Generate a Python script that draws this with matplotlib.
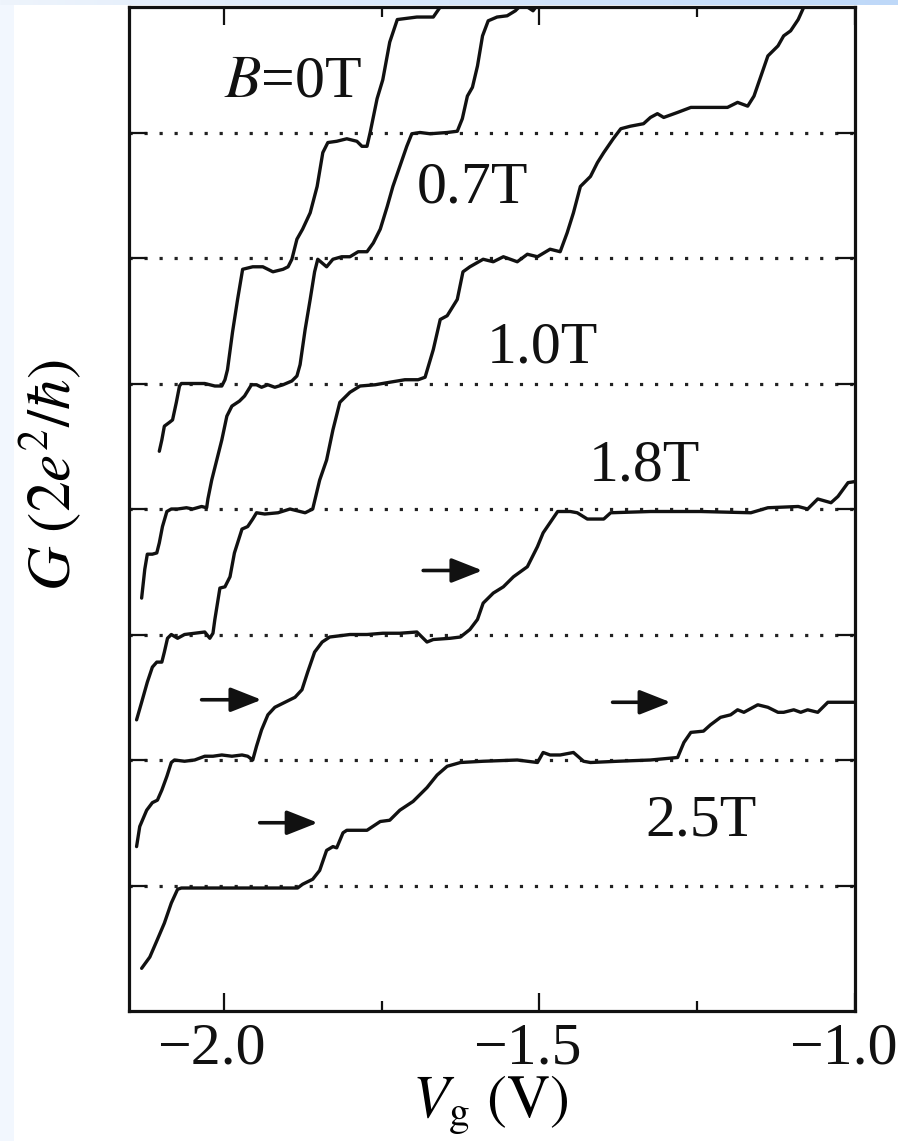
import numpy as np
import matplotlib
matplotlib.use("Agg")
import matplotlib.pyplot as plt
from matplotlib.patches import Rectangle
from matplotlib.transforms import ScaledTranslation

plt.rcParams['font.family'] = ['Liberation Serif', 'DejaVu Serif']
plt.rcParams['mathtext.fontset'] = 'stix'
plt.rcParams['axes.unicode_minus'] = True

# ---------------- data ----------------
field_labels = [r'$B$=0T', '0.7T', '1.0T', '1.8T', '2.5T']
offsets = [4, 3, 2, 1, 0]          # vertical offset of each trace (units of 2e^2/h)

vg_0T = [-2.102, -2.098, -2.094, -2.086, -2.081, -2.075, -2.070, -2.067, -2.030, -2.014,
         -2.003, -1.998, -1.994, -1.986, -1.978, -1.970, -1.954, -1.938, -1.922, -1.906,
         -1.898, -1.892, -1.884, -1.875, -1.863, -1.852, -1.843, -1.835, -1.821, -1.805,
         -1.789, -1.781, -1.773, -1.768, -1.757, -1.748, -1.737, -1.725, -1.694, -1.668,
         -1.657, -1.649]
g_0T = [0.46, 0.55, 0.66, 0.69, 0.71, 0.85, 0.98, 1.00, 1.00, 0.98,
        0.98, 1.03, 1.11, 1.41, 1.67, 1.91, 1.93, 1.93, 1.89, 1.91,
        1.93, 1.99, 2.15, 2.23, 2.36, 2.57, 2.84, 2.92, 2.93, 2.95,
        2.93, 2.89, 2.89, 3.00, 3.27, 3.42, 3.72, 3.90, 3.92, 3.92,
        4.00, 4.06]

vg_07T = [-2.130, -2.125, -2.121, -2.113, -2.106, -2.102, -2.097, -2.090, -2.083, -2.073,
          -2.059, -2.049, -2.035, -2.027, -2.025, -2.019, -2.011, -2.003, -1.995, -1.987,
          -1.975, -1.967, -1.956, -1.948, -1.940, -1.930, -1.919, -1.906, -1.892, -1.884,
          -1.879, -1.871, -1.863, -1.856, -1.851, -1.837, -1.827, -1.813, -1.800, -1.787,
          -1.773, -1.763, -1.752, -1.741, -1.732, -1.721, -1.710, -1.702, -1.689, -1.673,
          -1.646, -1.630, -1.622, -1.614, -1.606, -1.598, -1.590, -1.581, -1.567, -1.551,
          -1.538, -1.530, -1.519, -1.510, -1.498]
g_07T = [0.29, 0.52, 0.64, 0.64, 0.65, 0.73, 0.86, 0.98, 1.00, 1.00,
         1.01, 1.00, 1.02, 1.01, 1.08, 1.23, 1.39, 1.55, 1.74, 1.82,
         1.86, 1.90, 1.99, 1.99, 1.97, 1.99, 1.97, 1.99, 2.02, 2.06,
         2.15, 2.43, 2.67, 2.89, 2.99, 2.93, 2.99, 3.01, 3.01, 3.05,
         3.05, 3.12, 3.23, 3.41, 3.57, 3.73, 3.89, 3.99, 4.00, 3.99,
         4.00, 4.01, 4.11, 4.29, 4.36, 4.53, 4.77, 4.89, 4.92, 4.93,
         4.97, 5.01, 5.00, 4.97, 5.05]

vg_10T = [-2.138, -2.130, -2.121, -2.113, -2.106, -2.098, -2.094, -2.089, -2.083, -2.073,
          -2.062, -2.046, -2.030, -2.022, -2.017, -2.014, -2.006, -1.998, -1.990, -1.983,
          -1.971, -1.962, -1.954, -1.948, -1.935, -1.914, -1.895, -1.871, -1.859, -1.848,
          -1.837, -1.827, -1.816, -1.800, -1.784, -1.760, -1.737, -1.713, -1.692, -1.681,
          -1.668, -1.657, -1.646, -1.630, -1.621, -1.610, -1.589, -1.573, -1.557, -1.535,
          -1.519, -1.503, -1.483, -1.467, -1.456, -1.446, -1.435, -1.419, -1.408, -1.398,
          -1.383, -1.371, -1.356, -1.335, -1.324, -1.313, -1.303, -1.281, -1.260, -1.202,
          -1.186, -1.170, -1.160, -1.149, -1.138, -1.122, -1.113, -1.102, -1.090, -1.081,
          -1.073]
g_10T = [0.32, 0.46, 0.62, 0.74, 0.78, 0.78, 0.86, 0.97, 1.00, 0.97,
         1.00, 1.01, 1.02, 0.97, 1.01, 1.12, 1.37, 1.38, 1.46, 1.65,
         1.84, 1.86, 1.92, 1.97, 1.96, 1.97, 2.00, 1.97, 2.00, 2.23,
         2.39, 2.63, 2.85, 2.93, 2.98, 2.99, 3.01, 3.03, 3.03, 3.05,
         3.27, 3.51, 3.54, 3.67, 3.89, 3.93, 3.99, 3.97, 4.01, 3.97,
         4.03, 4.01, 4.07, 4.05, 4.20, 4.36, 4.57, 4.65, 4.76, 4.84,
         4.95, 5.03, 5.05, 5.07, 5.12, 5.15, 5.12, 5.16, 5.20, 5.20,
         5.24, 5.21, 5.29, 5.45, 5.61, 5.69, 5.77, 5.81, 5.90, 6.00,
         6.08]

vg_18T = [-2.138, -2.133, -2.122, -2.113, -2.105, -2.098, -2.090, -2.083, -2.078, -2.062,
          -2.046, -2.030, -2.017, -2.003, -1.987, -1.971, -1.962, -1.954, -1.948, -1.940,
          -1.930, -1.919, -1.903, -1.887, -1.876, -1.867, -1.856, -1.844, -1.832, -1.800,
          -1.773, -1.748, -1.721, -1.694, -1.678, -1.668, -1.641, -1.625, -1.610, -1.598,
          -1.589, -1.573, -1.557, -1.541, -1.519, -1.503, -1.494, -1.471, -1.451, -1.440,
          -1.424, -1.398, -1.387, -1.324, -1.244, -1.165, -1.138, -1.090, -1.075, -1.059,
          -1.038, -1.027, -1.011, -0.998]
g_18T = [0.31, 0.47, 0.60, 0.66, 0.68, 0.76, 0.87, 0.98, 1.00, 0.99,
         1.00, 1.03, 1.03, 1.04, 1.03, 1.04, 1.03, 1.00, 1.11, 1.24,
         1.36, 1.42, 1.46, 1.50, 1.56, 1.70, 1.86, 1.94, 1.98, 2.00,
         2.00, 2.01, 2.01, 2.02, 1.94, 1.96, 1.97, 1.98, 2.04, 2.12,
         2.25, 2.33, 2.38, 2.46, 2.54, 2.70, 2.81, 2.98, 2.98, 2.97,
         2.92, 2.92, 2.97, 2.98, 2.98, 2.97, 3.01, 3.02, 3.00, 3.08,
         3.05, 3.10, 3.21, 3.22]

vg_25T = [-2.130, -2.117, -2.105, -2.094, -2.083, -2.073, -2.067, -1.975, -1.883, -1.875,
          -1.859, -1.848, -1.837, -1.827, -1.821, -1.811, -1.805, -1.773, -1.752, -1.737,
          -1.721, -1.700, -1.678, -1.662, -1.646, -1.625, -1.589, -1.535, -1.503, -1.494,
          -1.483, -1.467, -1.446, -1.430, -1.419, -1.376, -1.324, -1.281, -1.271, -1.260,
          -1.240, -1.229, -1.213, -1.197, -1.186, -1.176, -1.154, -1.138, -1.122, -1.113,
          -1.097, -1.086, -1.075, -1.059, -1.043, -1.027, -0.998]
g_25T = [0.34, 0.43, 0.57, 0.70, 0.86, 0.97, 0.98, 0.98, 0.98, 1.01,
         1.05, 1.12, 1.28, 1.31, 1.30, 1.42, 1.44, 1.44, 1.51, 1.52,
         1.60, 1.67, 1.78, 1.88, 1.95, 1.98, 1.99, 2.00, 1.98, 2.06,
         2.04, 2.04, 2.06, 1.99, 1.98, 1.99, 2.00, 2.02, 2.14, 2.22,
         2.23, 2.28, 2.34, 2.36, 2.40, 2.38, 2.44, 2.42, 2.38, 2.38,
         2.40, 2.38, 2.40, 2.38, 2.46, 2.46, 2.46]

vg_traces = [vg_0T, vg_07T, vg_10T, vg_18T, vg_25T]
g_traces = [g_0T, g_07T, g_10T, g_18T, g_25T]

# arrows marking spin-split half plateaus: (Vg tail, Vg tip, level)
arrow_tail = [-2.035, -1.684, -1.384, -1.943]
arrow_tip = [-1.940, -1.590, -1.292, -1.851]
arrow_level = [2.48, 3.51, 2.46, 1.50]

x_major = [-2.0, -1.5, -1.0]
x_minor = [-1.75, -1.25]
x_ticklabels = ['\u22122.0', '\u22121.5', '\u22121.0']
y_levels = [1, 2, 3, 4, 5, 6, 7]

# ---------------- figure ----------------
W, H = 898, 1141
fig = plt.figure(figsize=(W / 100, H / 100), dpi=100)
fig.patch.set_facecolor('white')

# screenshot tint at the edges
fig.patches.append(Rectangle((0, 0), 14 / W, 1, transform=fig.transFigure,
                             facecolor='#F2F7FE', edgecolor='none', zorder=-10))
grad = np.linspace(0, 1, W)
c0 = np.array([238, 244, 252]) / 255.0
c1 = np.array([190, 216, 248]) / 255.0
strip = (c0[None, :] * (1 - grad[:, None]) + c1[None, :] * grad[:, None])
strip = np.repeat(strip[None, :, :], 5, axis=0)
fig.figimage(strip, xo=0, yo=H - 5, origin='upper', zorder=-5)

ax = fig.add_axes([129 / W, 130 / H, 726 / W, 1004 / H])
ax.set_xlim(-2.15, -1.0)
ax.set_ylim(0, 8)

for vg, g, off in zip(vg_traces, g_traces, offsets):
    ax.plot(vg, np.array(g) + off, color='#111111', lw=2.4,
            solid_joinstyle='round', solid_capstyle='round', zorder=3)

for lv in y_levels:
    ax.axhline(lv, color='#222222', lw=2.3, linestyle=(0, (1, 3.7)), zorder=1)

for t0, t1, lv in zip(arrow_tail, arrow_tip, arrow_level):
    ax.annotate('', xy=(t1, lv), xytext=(t0, lv),
                arrowprops=dict(arrowstyle='-|>,head_length=19,head_width=7.5',
                                mutation_scale=1, lw=2.6, color='#111111',
                                shrinkA=0, shrinkB=0), zorder=4)

# trace labels
lab_x = [-1.890, -1.606, -1.495, -1.333, -1.244]
lab_y = [7.29, 6.44, 5.17, 4.23, 1.40]
for txt, lx, ly in zip(field_labels, lab_x, lab_y):
    ax.text(lx, ly, txt, fontsize=43, ha='center', va='baseline', color='#111111',
            zorder=5)

# axes styling
for sp in ax.spines.values():
    sp.set_linewidth(2.3)
    sp.set_color('#111111')

ax.set_xticks(x_major)
ax.set_xticklabels(x_ticklabels)
ax.set_xticks(x_minor, minor=True)
ax.set_yticks(y_levels)
ax.set_yticklabels([])
ax.tick_params(axis='both', which='major', direction='in', length=13, width=1.6,
               top=True, right=True, colors='#111111', labelsize=43, pad=8)
ax.tick_params(axis='x', which='minor', direction='in', length=7, width=1.6,
               top=True, bottom=True, colors='#111111')
ax.tick_params(axis='y', which='minor', left=False, right=False)

shift = ScaledTranslation(-12 / 100, 0, fig.dpi_scale_trans)
for tick in ax.xaxis.get_major_ticks():
    tick.label1.set_transform(tick.label1.get_transform() + shift)

ax.set_xlabel(r'$V_{\mathrm{g}}\ (\mathrm{V})$', fontsize=43)
ax.xaxis.set_label_coords(0.497, -0.094)
ax.xaxis.label.set_va('center')
ax.set_ylabel(r'$G\ (2e^2/\hbar)$', fontsize=44)
ax.yaxis.set_label_coords(-0.109, 0.534)
ax.yaxis.label.set_va('center')

fig.savefig('out.png', dpi=100)
